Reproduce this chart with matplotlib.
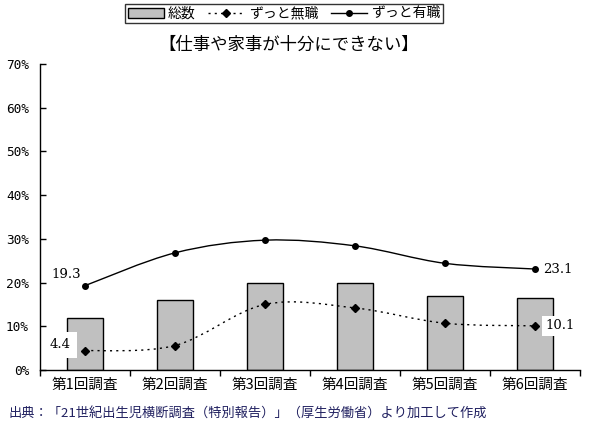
import matplotlib
matplotlib.use("Agg")
import matplotlib.pyplot as plt
import numpy as np
from matplotlib.path import Path
from matplotlib.patches import PathPatch
from matplotlib.lines import Line2D
from matplotlib.patches import Patch

plt.rcParams['font.family'] = ['Noto Sans CJK JP', 'DejaVu Sans']

categories = ["第1回調査", "第2回調査", "第3回調査", "第4回調査", "第5回調査", "第6回調査"]
total = [12.0, 16.0, 20.0, 20.0, 17.0, 16.4]
no_job = [4.4, 5.6, 15.0, 14.2, 10.7, 10.1]
has_job = [19.3, 26.8, 29.7, 28.4, 24.4, 23.1]
yticks = [0, 10, 20, 30, 40, 50, 60, 70]
ytick_labels = ["0%", "10%", "20%", "30%", "40%", "50%", "60%", "70%"]
legend_labels = ["総数", "ずっと無職", "ずっと有職"]
title = "【仕事や家事が十分にできない】"
source = "出典：「21世紀出生児横断調査（特別報告）」（厚生労働省）より加工して作成"

W, H = 593, 428
fig = plt.figure(figsize=(W / 100, H / 100), dpi=100)
ax = fig.add_axes([40 / W, (H - 370) / H, 540 / W, 306 / H])

x = np.arange(len(categories))
ax.bar(x, total, width=0.4, color="#c0c0c0", edgecolor="black", linewidth=1.0, zorder=2)


def smooth_path(xs, ys):
    pts = np.column_stack([xs, ys]).astype(float)
    n = len(pts)
    verts = [pts[0]]
    codes = [Path.MOVETO]
    for i in range(n - 1):
        p0 = pts[i - 1] if i > 0 else pts[i]
        p1 = pts[i]
        p2 = pts[i + 1]
        p3 = pts[i + 2] if i + 2 < n else pts[i + 1]
        c1 = p1 + (p2 - p0) / 6.0
        c2 = p2 - (p3 - p1) / 6.0
        verts += [c1, c2, p2]
        codes += [Path.CURVE4] * 3
    return Path(verts, codes)


ax.add_patch(PathPatch(smooth_path(x, no_job), fill=False, edgecolor="black",
                       linewidth=1.0, linestyle=(0, (1.5, 3)), zorder=3))
ax.plot(x, no_job, linestyle="none", marker="D", markersize=4.5, color="black", zorder=4)
ax.add_patch(PathPatch(smooth_path(x, has_job), fill=False, edgecolor="black",
                       linewidth=1.0, zorder=3))
ax.plot(x, has_job, linestyle="none", marker="o", markersize=4, color="black", zorder=4)

lab_fs = 9.5
ax.annotate(f"{has_job[0]:.1f}", (x[0], has_job[0]), xytext=(-19, 11), textcoords="offset pixels",
            ha="center", va="center", fontsize=lab_fs, family=["DejaVu Serif"], zorder=5)
ax.annotate(f"{no_job[0]:.1f}", (x[0], no_job[0]), xytext=(-25, 6), textcoords="offset pixels",
            ha="center", va="center", fontsize=lab_fs, family=["DejaVu Serif"], zorder=5,
            bbox=dict(boxstyle="square,pad=0.5", facecolor="white", edgecolor="none"))
ax.annotate(f"{has_job[-1]:.1f}", (x[-1], has_job[-1]), xytext=(8, 0), textcoords="offset pixels",
            ha="left", va="center", fontsize=lab_fs, family=["DejaVu Serif"], zorder=5)
ax.annotate(f"{no_job[-1]:.1f}", (x[-1], no_job[-1]), xytext=(10, 0), textcoords="offset pixels",
            ha="left", va="center", fontsize=lab_fs, family=["DejaVu Serif"], zorder=5,
            bbox=dict(boxstyle="square,pad=0.25", facecolor="white", edgecolor="none"))

ax.set_xlim(-0.5, len(categories) - 0.5)
ax.set_ylim(0, 70)
ax.set_yticks(yticks)
ax.set_yticklabels(ytick_labels, fontsize=9.2, family=["DejaVu Sans Mono"])
ax.tick_params(axis="y", direction="in", length=4, width=1, pad=8)
ax.set_xticks(x)
ax.set_xticklabels(categories, fontsize=10.5)
ax.tick_params(axis="x", which="major", length=0, pad=6)
ax.set_xticks(np.arange(len(categories) + 1) - 0.5, minor=True)
ax.tick_params(axis="x", which="minor", direction="out", length=4, width=1)
for s in ["top", "right"]:
    ax.spines[s].set_visible(False)
for s in ["left", "bottom"]:
    ax.spines[s].set_linewidth(1.0)

fig.text(289 / W, 1 - 45 / H, title, ha="center", va="center", fontsize=12.5)

handles = [
    Patch(facecolor="#c0c0c0", edgecolor="black", linewidth=1.0),
    Line2D([], [], color="black", linewidth=1.0, linestyle=(0, (1.5, 3)), marker="D", markersize=4),
    Line2D([], [], color="black", linewidth=1.0, marker="o", markersize=4),
]
leg = fig.legend(handles, legend_labels, ncol=3, loc="center", bbox_to_anchor=(284 / W, 1 - 13.5 / H),
                 fontsize=10, frameon=True, fancybox=False, edgecolor="black", handlelength=2.6,
                 handletextpad=0.3, columnspacing=0.9, borderpad=0.2, borderaxespad=0)
leg.get_frame().set_linewidth(1.0)

fig.text(8 / W, 1 - 413 / H, source, ha="left", va="center", fontsize=9.5, color="#202060")

fig.savefig("out.png", dpi=100)
